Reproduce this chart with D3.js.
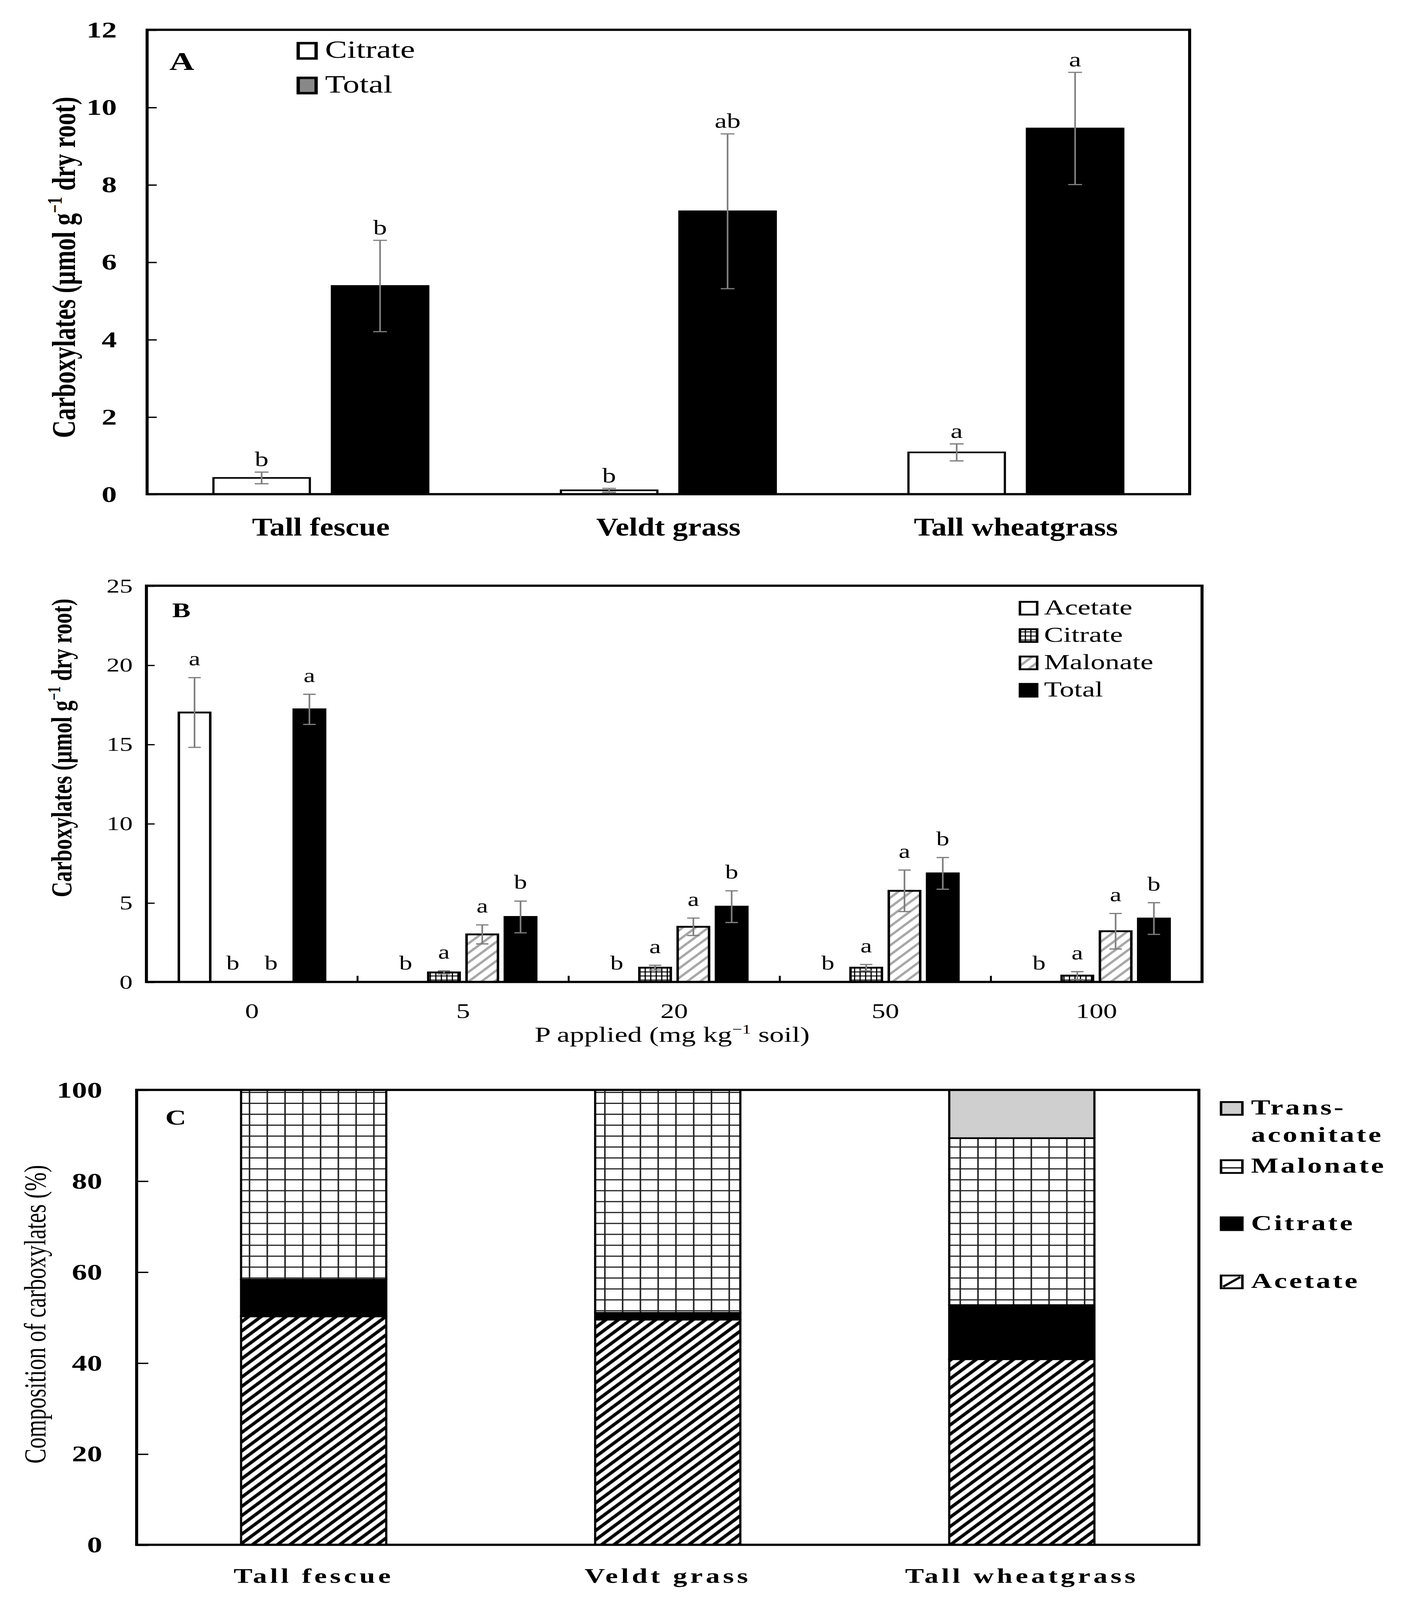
<!DOCTYPE html>
<meta charset="utf-8">
<script src="https://d3js.org/d3.v7.min.js"></script>
<style>
  html, body { margin: 0; background: #fff; overflow: hidden; }
  svg { display: block; }
  text { font-family: "Liberation Serif", "Times New Roman", serif; fill: #000; }
</style>
<div id="chart"></div>
<script>

// ---- panel A data
var speciesA = ["Tall fescue", "Veldt grass", "Tall wheatgrass"];
var seriesA = ["Citrate", "Total"];
var citrateA = [0.42, 0.10, 1.08];
var citrateErrA = [0.15, 0.05, 0.22];
var citrateLetA = ["b", "b", "a"];
var totalA = [5.38, 7.31, 9.45];
var totalErrA = [1.18, 2.0, 1.45];
var totalLetA = ["b", "ab", "a"];
var ticksA = [0, 2, 4, 6, 8, 10, 12];

// ---- panel B data
var doseB = ["0", "5", "20", "50", "100"];
var seriesB = ["Acetate", "Citrate", "Malonate", "Total"];
var acetateB = [17.0, 0, 0, 0, 0];
var acetateErrB = [2.2, 0, 0, 0, 0];
var acetateLetB = ["a", "b", "b", "b", "b"];
var citrateB = [0, 0.6, 0.9, 0.9, 0.4];
var citrateErrB = [0, 0.1, 0.15, 0.2, 0.25];
var citrateLetB = ["b", "a", "a", "a", "a"];
var malonateB = [0, 3.0, 3.48, 5.75, 3.2];
var malonateErrB = [0, 0.6, 0.55, 1.31, 1.12];
var malonateLetB = ["b", "a", "a", "a", "a"];
var totalB = [17.2, 4.1, 4.75, 6.85, 4.0];
var totalErrB = [0.95, 1.0, 1.0, 1.0, 1.0];
var totalLetB = ["a", "b", "b", "b", "b"];
var ticksB = [0, 5, 10, 15, 20, 25];

// ---- panel C data (% composition)
var speciesC = ["Tall fescue", "Veldt grass", "Tall wheatgrass"];
var seriesC = ["Acetate", "Citrate", "Malonate", "Trans-aconitate"];
var acetateC = [50.2, 49.5, 40.8];
var citrateC = [8.1, 1.5, 11.9];
var malonateC = [41.7, 49.0, 36.7];
var transC = [0, 0, 10.6];
var ticksC = [0, 20, 40, 60, 80, 100];

// drawing units: the figure is 1032.4 x 1568; stretched to whatever the window gives
var W = 1032.4, H = 1568;
var pw = window.innerWidth || 3641, ph = window.innerHeight || 5530;
var svg = d3.select("#chart").append("svg")
    .attr("width", pw).attr("height", ph)
    .attr("viewBox", "0 0 " + W + " " + H)
    .attr("preserveAspectRatio", "none");
svg.append("rect").attr("width", W).attr("height", H).attr("fill", "#fff");

// patterns
var defs = svg.append("defs");
function hatch(id, s, color, sw) {
  var p = defs.append("pattern").attr("id", id)
    .attr("patternUnits", "userSpaceOnUse")
    .attr("width", s).attr("height", s)
    .attr("patternTransform", "rotate(45)");
  p.append("rect").attr("width", s).attr("height", s).attr("fill", "#fff");
  p.append("line").attr("x1", s / 2).attr("x2", s / 2).attr("y1", 0).attr("y2", s)
    .attr("stroke", color).attr("stroke-width", sw);
}
function grid(id, w, h, color, sw) {
  var p = defs.append("pattern").attr("id", id)
    .attr("patternUnits", "userSpaceOnUse")
    .attr("width", w).attr("height", h);
  p.append("rect").attr("width", w).attr("height", h).attr("fill", "#fff");
  p.append("path").attr("d", "M0," + sw / 2 + "H" + w + "M" + sw / 2 + ",0V" + h)
    .attr("stroke", color).attr("stroke-width", sw).attr("fill", "none");
}
hatch("hatchB", 6.6, "#a6a6a6", 2);
hatch("hatchC", 6.4, "#000", 2.8);
grid("gridB", 4, 4, "#000", 0.9);
grid("gridC", 12.9, 10.7, "#222", 1.1);

function condense(sel, f) {
  sel.each(function () {
    var L = this.getComputedTextLength();
    d3.select(this).attr("textLength", L * f).attr("lengthAdjust", "spacingAndGlyphs");
  });
}
function carbTitle(t, fs) {
  t.append("tspan").text("Carboxylates (µmol g");
  t.append("tspan").attr("dy", -fs * 0.4).attr("font-size", fs * 0.62).text("−1");
  t.append("tspan").attr("dy", fs * 0.4).text(" dry root)");
}
function errorBars(g, rows, x, y, cap) {
  var e = g.selectAll(".err").data(rows.filter(function (d) { return d.e > 0; }))
    .enter().append("g").attr("stroke", "#7f7f7f").attr("stroke-width", 1.2);
  e.append("line").attr("x1", x).attr("x2", x)
    .attr("y1", function (d) { return y(d.v - d.e); })
    .attr("y2", function (d) { return y(d.v + d.e); });
  e.append("line").attr("x1", function (d) { return x(d) - cap; })
    .attr("x2", function (d) { return x(d) + cap; })
    .attr("y1", function (d) { return y(d.v + d.e); })
    .attr("y2", function (d) { return y(d.v + d.e); });
  e.append("line").attr("x1", function (d) { return x(d) - cap; })
    .attr("x2", function (d) { return x(d) + cap; })
    .attr("y1", function (d) { return y(d.v - d.e); })
    .attr("y2", function (d) { return y(d.v - d.e); });
}

// ================= PANEL A =================
var xA = d3.scaleBand().domain(speciesA).range([106.8, 863.7]);
var xAin = d3.scaleBand().domain(seriesA).range([0, xA.bandwidth()])
    .paddingInner(0.186).paddingOuter(0.56);
var yA = d3.scaleLinear().domain([0, 12]).range([484.3, 29.2]);

var rowsA = [];
speciesA.forEach(function (s, i) {
  rowsA.push({ s: s, k: "Citrate", v: citrateA[i], e: citrateErrA[i], l: citrateLetA[i] });
  rowsA.push({ s: s, k: "Total", v: totalA[i], e: totalErrA[i], l: totalLetA[i] });
});
var gA = svg.append("g");
var cxA = function (d) { return xA(d.s) + xAin(d.k) + xAin.bandwidth() / 2; };

gA.selectAll("rect.bar").data(rowsA).enter().append("rect")
  .attr("x", function (d) { return xA(d.s) + xAin(d.k); })
  .attr("y", function (d) { return yA(d.v); })
  .attr("width", xAin.bandwidth())
  .attr("height", function (d) { return yA(0) - yA(d.v); })
  .attr("fill", function (d) { return d.k == "Total" ? "#000" : "#fff"; })
  .attr("stroke", "#000").attr("stroke-width", 1.6);
errorBars(gA, rowsA, cxA, yA, 5);
gA.selectAll("text.let").data(rowsA).enter().append("text")
  .attr("x", cxA).attr("y", function (d) { return yA(d.v + d.e) - 6; })
  .attr("text-anchor", "middle").attr("font-size", 20).text(function (d) { return d.l; });

gA.append("g").attr("transform", "translate(106.8,0)")
  .call(d3.axisLeft(yA).tickValues(ticksA).tickSizeInner(-7).tickSizeOuter(0).tickPadding(22))
  .call(function (g) { g.select(".domain").remove(); })
  .call(function (g) {
    g.selectAll("line").attr("stroke", "#000").attr("stroke-width", 1.3);
    g.selectAll("text").attr("font-size", 22).attr("font-weight", "bold")
      .attr("font-family", "Liberation Serif");
  });
gA.append("rect").attr("x", 106.8).attr("y", 29.2)
  .attr("width", 863.7 - 106.8).attr("height", 484.3 - 29.2)
  .attr("fill", "none").attr("stroke", "#000").attr("stroke-width", 2.2);

gA.append("text").attr("x", 123).attr("y", 68.6).attr("font-size", 25)
  .attr("font-weight", "bold").text("A");
var legA = gA.selectAll("g.leg").data(seriesA).enter().append("g")
  .attr("transform", function (d, i) { return "translate(0," + (i * 34) + ")"; });
legA.append("rect").attr("x", 216.5).attr("y", 42.3).attr("width", 13).attr("height", 15)
  .attr("fill", function (d) { return d == "Total" ? "#888" : "#fff"; })
  .attr("stroke", "#000").attr("stroke-width", 2.4);
legA.append("text").attr("x", 236).attr("y", 56.7).attr("font-size", 24).text(function (d) { return d; });

gA.selectAll("text.xl").data(speciesA).enter().append("text")
  .attr("x", function (d) { return xA(d) + xA.bandwidth() / 2; }).attr("y", 525)
  .attr("text-anchor", "middle").attr("font-size", 25).attr("font-weight", "bold")
  .text(function (d) { return d; })
  .call(condense, 0.89);

var tA = gA.append("text").attr("transform", "translate(54.4,262) rotate(-90)")
  .attr("text-anchor", "middle").attr("font-size", 24).attr("font-weight", "bold");
carbTitle(tA, 24);

// ================= PANEL B =================
var xB = d3.scaleBand().domain(doseB).range([106.3, 872.7]);
var xBin = d3.scaleBand().domain(seriesB).range([0, xB.bandwidth()])
    .paddingInner(0.18).paddingOuter(0.847);
var yB = d3.scaleLinear().domain([0, 25]).range([962.3, 574]);

var rowsB = [];
doseB.forEach(function (p, i) {
  rowsB.push({ s: p, k: "Acetate", v: acetateB[i], e: acetateErrB[i], l: acetateLetB[i] });
  rowsB.push({ s: p, k: "Citrate", v: citrateB[i], e: citrateErrB[i], l: citrateLetB[i] });
  rowsB.push({ s: p, k: "Malonate", v: malonateB[i], e: malonateErrB[i], l: malonateLetB[i] });
  rowsB.push({ s: p, k: "Total", v: totalB[i], e: totalErrB[i], l: totalLetB[i] });
});
var fillB = { Acetate: "#fff", Citrate: "url(#gridB)", Malonate: "url(#hatchB)", Total: "#000" };
var gB = svg.append("g");
var cxB = function (d) { return xB(d.s) + xBin(d.k) + xBin.bandwidth() / 2; };

gB.selectAll("rect.bar").data(rowsB.filter(function (d) { return d.v > 0; })).enter().append("rect")
  .attr("x", function (d) { return xB(d.s) + xBin(d.k); })
  .attr("y", function (d) { return yB(d.v); })
  .attr("width", xBin.bandwidth())
  .attr("height", function (d) { return yB(0) - yB(d.v); })
  .attr("fill", function (d) { return fillB[d.k]; })
  .attr("stroke", "#000").attr("stroke-width", 1.8);
errorBars(gB, rowsB, cxB, yB, 4.5);
gB.selectAll("text.let").data(rowsB).enter().append("text")
  .attr("x", cxB).attr("y", function (d) { return yB(d.v + d.e) - 12; })
  .attr("text-anchor", "middle").attr("font-size", 19).text(function (d) { return d.l; });

gB.append("g").attr("transform", "translate(106.3,0)")
  .call(d3.axisLeft(yB).tickValues(ticksB).tickSizeInner(-6).tickSizeOuter(0).tickPadding(10))
  .call(function (g) { g.select(".domain").remove(); })
  .call(function (g) {
    g.selectAll("line").attr("stroke", "#000").attr("stroke-width", 1.2);
    g.selectAll("text").attr("font-size", 19).attr("font-family", "Liberation Serif");
  });
// category boundary ticks
gB.selectAll("line.bt").data(doseB.slice(1)).enter().append("line")
  .attr("x1", function (d) { return xB(d); }).attr("x2", function (d) { return xB(d); })
  .attr("y1", yB(0)).attr("y2", yB(0) - 6).attr("stroke", "#000").attr("stroke-width", 1.4);
gB.append("g").attr("transform", "translate(0," + yB(0) + ")")
  .call(d3.axisBottom(xB).tickSize(0).tickPadding(21))
  .call(function (g) { g.select(".domain").remove(); })
  .call(function (g) {
    g.selectAll("text").attr("font-size", 20).attr("font-family", "Liberation Serif");
  });
gB.append("rect").attr("x", 106.3).attr("y", 574)
  .attr("width", 872.7 - 106.3).attr("height", 962.3 - 574)
  .attr("fill", "none").attr("stroke", "#000").attr("stroke-width", 2.2);

gB.append("text").attr("x", 125).attr("y", 605).attr("font-size", 20)
  .attr("font-weight", "bold").text("B");
var legB = gB.selectAll("g.leg").data(seriesB).enter().append("g")
  .attr("transform", function (d, i) { return "translate(0," + (i * 26.8) + ")"; });
legB.append("rect").attr("x", 740.5).attr("y", 589.8).attr("width", 12.5).attr("height", 12.5)
  .attr("fill", function (d) { return fillB[d]; })
  .attr("stroke", "#000").attr("stroke-width", 1.8);
legB.append("text").attr("x", 758).attr("y", 602).attr("font-size", 21).text(function (d) { return d; });

var xtB = gB.append("text").attr("x", 488).attr("y", 1020.8)
  .attr("text-anchor", "middle").attr("font-size", 21);
xtB.append("tspan").text("P applied (mg kg");
xtB.append("tspan").attr("dy", -8).attr("font-size", 13).text("−1");
xtB.append("tspan").attr("dy", 8).text(" soil)");

var tB = gB.append("text").attr("transform", "translate(52,733) rotate(-90)")
  .attr("text-anchor", "middle").attr("font-size", 21).attr("font-weight", "bold");
carbTitle(tB, 21);

// ================= PANEL C =================
var xC = d3.scaleBand().domain(speciesC).range([99.2, 870.4]).paddingInner(0.59).paddingOuter(0.295);
var yC = d3.scaleLinear().domain([0, 100]).range([1513.9, 1068.1]);
var tableC = speciesC.map(function (s, i) {
  return { s: s, "Acetate": acetateC[i], "Citrate": citrateC[i], "Malonate": malonateC[i], "Trans-aconitate": transC[i] };
});
var stackC = d3.stack().keys(seriesC)(tableC);
var fillC = { "Acetate": "url(#hatchC)", "Citrate": "#000", "Malonate": "url(#gridC)", "Trans-aconitate": "#cfcfcf" };
var gC = svg.append("g");

gC.selectAll("g.layer").data(stackC).enter().append("g")
  .attr("fill", function (d) { return fillC[d.key]; })
  .selectAll("rect").data(function (d) { return d.filter(function (p) { return p[1] - p[0] > 0; }); })
  .enter().append("rect")
  .attr("x", function (d) { return xC(d.data.s); })
  .attr("y", function (d) { return yC(d[1]); })
  .attr("width", xC.bandwidth())
  .attr("height", function (d) { return yC(d[0]) - yC(d[1]); })
  .attr("stroke", "#000").attr("stroke-width", 1.6);

gC.append("g").attr("transform", "translate(99.2,0)")
  .call(d3.axisLeft(yC).tickValues(ticksC).tickSizeInner(-8.5).tickSizeOuter(0).tickPadding(25))
  .call(function (g) { g.select(".domain").remove(); })
  .call(function (g) {
    g.selectAll("line").attr("stroke", "#000").attr("stroke-width", 1.3);
    g.selectAll("text").attr("font-size", 22).attr("font-weight", "bold")
      .attr("font-family", "Liberation Serif");
  });
gC.append("rect").attr("x", 99.2).attr("y", 1068.1)
  .attr("width", 870.4 - 99.2).attr("height", 1513.9 - 1068.1)
  .attr("fill", "none").attr("stroke", "#000").attr("stroke-width", 2.2);

gC.append("text").attr("x", 120).attr("y", 1102).attr("font-size", 21)
  .attr("font-weight", "bold").text("C");

gC.selectAll("text.xl").data(speciesC).enter().append("text")
  .attr("x", function (d) { return xC(d) + xC.bandwidth() / 2; }).attr("y", 1551)
  .attr("text-anchor", "middle").attr("font-size", 20.5).attr("font-weight", "bold")
  .attr("letter-spacing", 2.2)
  .text(function (d) { return d; });

var tC = gC.append("text").attr("transform", "translate(33,1288) rotate(-90)")
  .attr("text-anchor", "middle").attr("font-size", 22).text("Composition of carboxylates (%)");

// legend C (top to bottom as in the figure)
var legCItems = ["Trans-aconitate", "Malonate", "Citrate", "Acetate"];
var legCy = [1080, 1137, 1193, 1250];
var legC = gC.selectAll("g.leg").data(legCItems).enter().append("g")
  .attr("transform", function (d, i) { return "translate(0," + legCy[i] + ")"; });
legC.append("rect").attr("x", 886.5).attr("y", 0).attr("width", 15.5).attr("height", 12.5)
  .attr("fill", function (d) { return d == "Trans-aconitate" ? "#cfcfcf" : d == "Citrate" ? "#000" : "#fff"; })
  .attr("stroke", "#000").attr("stroke-width", 1.8);
legC.filter(function (d) { return d == "Malonate"; }).append("line")
  .attr("x1", 886.5).attr("x2", 902).attr("y1", 7.5).attr("y2", 7.5)
  .attr("stroke", "#000").attr("stroke-width", 1.2);
legC.filter(function (d) { return d == "Acetate"; }).append("line")
  .attr("x1", 888).attr("x2", 900.5).attr("y1", 11).attr("y2", 1.5)
  .attr("stroke", "#000").attr("stroke-width", 2);
legC.append("text").attr("x", 908.3).attr("y", 12.3).attr("font-size", 21)
  .attr("font-weight", "bold").attr("letter-spacing", 1.6)
  .each(function (d) {
    var t = d3.select(this);
    if (d == "Trans-aconitate") {
      t.append("tspan").attr("x", 908.3).text("Trans-");
      t.append("tspan").attr("x", 908.3).attr("dy", 26.7).text("aconitate");
    } else t.text(d);
  });

</script>
